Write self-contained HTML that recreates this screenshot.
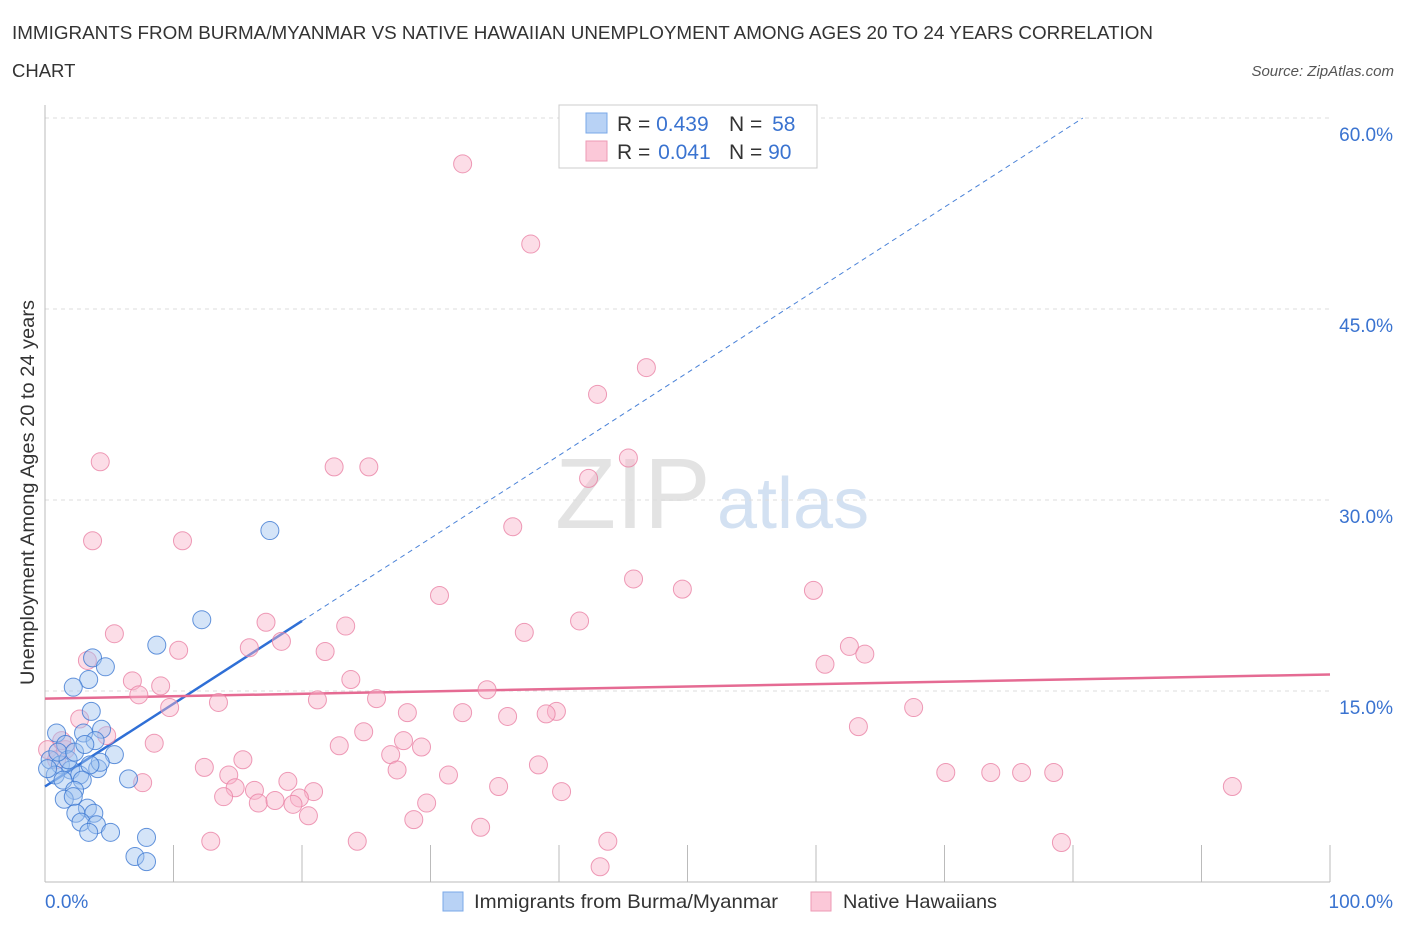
<!DOCTYPE html>
<html><head><meta charset="utf-8"><style>
body{margin:0;background:#fff;font-family:"Liberation Sans",sans-serif;}
svg text{font-family:"Liberation Sans",sans-serif;}
</style></head><body>
<svg id="chart" width="1406" height="930" viewBox="0 0 1406 930" xmlns="http://www.w3.org/2000/svg">
<text x="12" y="39" font-size="18.5" fill="#333" textLength="1141" lengthAdjust="spacingAndGlyphs">IMMIGRANTS FROM BURMA/MYANMAR VS NATIVE HAWAIIAN UNEMPLOYMENT AMONG AGES 20 TO 24 YEARS CORRELATION</text>
<text x="12" y="77" font-size="18.5" fill="#333">CHART</text>
<text x="1394" y="76" font-size="15" fill="#555" font-style="italic" text-anchor="end">Source: ZipAtlas.com</text>
<text x="34" y="685" font-size="19.5" fill="#333" textLength="385" lengthAdjust="spacingAndGlyphs" transform="rotate(-90 34 685)">Unemployment Among Ages 20 to 24 years</text>
<g><text x="555" y="528" font-size="100" fill="#ddd" font-family="Liberation Serif,serif" opacity="0.8">ZIP</text><text x="717" y="528" font-size="72" fill="#c9daf0" opacity="0.8">atlas</text></g>
<g id="grid"></g><g id="axes"></g><g id="lines"></g><g id="points"></g>
<g>
<rect x="559" y="105" width="258" height="63" fill="#fff" stroke="#ccc"/>
<rect x="586" y="113" width="21" height="20" fill="#b8d2f5" stroke="#7aa8e8"/>
<rect x="586" y="141" width="21" height="20" fill="#fbc8d8" stroke="#ee9ab5"/>
<text x="617" y="131" font-size="21" fill="#333">R = <tspan fill="#3a73d0">0.439</tspan></text>
<text x="729" y="131" font-size="21" fill="#333">N = <tspan fill="#3a73d0" dx="4">58</tspan></text>
<text x="617" y="159" font-size="21" fill="#333">R = <tspan fill="#3a73d0" dx="2">0.041</tspan></text>
<text x="729" y="159" font-size="21" fill="#333">N = <tspan fill="#3a73d0">90</tspan></text>
</g>
<g>
<rect x="443" y="892" width="20" height="19" fill="#b8d2f5" stroke="#7aa8e8"/>
<text x="474" y="908" font-size="19.5" fill="#333" textLength="304" lengthAdjust="spacingAndGlyphs">Immigrants from Burma/Myanmar</text>
<rect x="811" y="892" width="20" height="19" fill="#fbc8d8" stroke="#ee9ab5"/>
<text x="843" y="908" font-size="19.5" fill="#333" textLength="154" lengthAdjust="spacingAndGlyphs">Native Hawaiians</text>
</g>
</svg>
<script>
const blueX=[17.5,12.2,8.7,3.7,4.7,3.4,2.2,3.6,0.9,3.0,4.4,3.9,5.4,1.6,0.4,1.2,2.0,0.8,2.7,4.1,4.3,3.5,1.8,1.4,2.9,6.5,2.3,1.5,2.2,3.3,3.8,2.4,2.8,4.0,3.4,5.1,7.9,7.0,7.9,0.2,1.0,2.3,3.1];
const blueY=[27.6,20.6,18.6,17.6,16.9,15.9,15.3,13.4,11.7,11.7,12.0,11.1,10.0,10.8,9.6,9.2,8.8,8.4,8.4,8.9,9.4,9.2,9.6,8.0,8.0,8.1,7.2,6.5,6.7,5.8,5.4,5.4,4.7,4.5,3.9,3.9,3.5,2.0,1.6,8.9,10.2,10.2,10.8];
const pinkX=[32.5,37.8,46.8,43.0,45.4,42.3,22.5,25.2,4.3,3.7,10.7,36.4,45.8,49.6,59.8,30.7,17.2,41.6,23.4,37.3,5.4,18.4,15.9,10.4,62.6,63.8,21.8,60.7,3.3,6.8,23.8,9.0,7.3,34.4,21.2,25.8,13.5,9.7,67.6,28.2,32.5,39.8,39.0,36.0,2.7,24.8,4.8,63.3,8.5,22.9,27.9,29.3,1.6,0.2,26.9,15.4,12.4,38.4,27.4,14.3,31.4,70.1,73.6,76.0,78.5,18.9,7.6,14.8,16.3,35.3,20.9,40.2,92.4,13.9,16.6,17.9,19.8,19.3,29.7,20.5,28.7,33.9,12.9,24.3,43.8,79.1,43.2,1.3,0.9];
const pinkY=[56.4,50.1,40.4,38.3,33.3,31.7,32.6,32.6,33.0,26.8,26.8,27.9,23.8,23.0,22.9,22.5,20.4,20.5,20.1,19.6,19.5,18.9,18.4,18.2,18.5,17.9,18.1,17.1,17.4,15.8,15.9,15.4,14.7,15.1,14.3,14.4,14.1,13.7,13.7,13.3,13.3,13.4,13.2,13.0,12.8,11.8,11.5,12.2,10.9,10.7,11.1,10.6,10.4,10.4,10.0,9.6,9.0,9.2,8.8,8.4,8.4,8.6,8.6,8.6,8.6,7.9,7.8,7.4,7.2,7.5,7.1,7.1,7.5,6.7,6.2,6.4,6.6,6.1,6.2,5.2,4.9,4.3,3.2,3.2,3.2,3.1,1.2,11.1,9.6];
const yTicks=[15,30,45,60];
const yTickLabels=["15.0%","30.0%","45.0%","60.0%"];
const xTicks=[0,10,20,30,40,50,60,70,80,90,100];
const blueTrend=[7.5,0.65]; // intercept, slope
const pinkTrend=[14.4,16.3]; // y at 0, y at 100
const sx=v=>45+v*12.85, sy=v=>882-v*191/15;
const NS="http://www.w3.org/2000/svg";
function mk(t,a,p){const e=document.createElementNS(NS,t);for(const k in a)e.setAttribute(k,a[k]);p.appendChild(e);return e;}
const grid=document.getElementById('grid'),axes=document.getElementById('axes'),lines=document.getElementById('lines'),pts=document.getElementById('points');
yTicks.forEach((t,i)=>{
 const g=mk('line',{x1:45,x2:1330,y1:sy(t),y2:sy(t),stroke:'#ddd','stroke-dasharray':'4 4'},grid);
 
 
 const l=mk('text',{x:1393,y:sy(t)+23,'font-size':19,fill:'#3a73d0','text-anchor':'end'},axes);
 l.textContent=yTickLabels[i];
 
 
});
const ax=mk('line',{x1:45,x2:45,y1:105,y2:882,stroke:'#bbb'},axes);


const bx=mk('line',{x1:45,x2:1330,y1:882,y2:882,stroke:'#bbb'},axes);


xTicks.forEach(t=>{const k=mk('line',{x1:sx(t),x2:sx(t),y1:845,y2:882,stroke:'#bbb'},axes);
 
 });
const x0=mk('text',{x:45,y:908,'font-size':19,fill:'#3a73d0'},axes);x0.textContent='0.0%';


const x1=mk('text',{x:1393,y:908,'font-size':19,fill:'#3a73d0','text-anchor':'end'},axes);x1.textContent='100.0%';


pinkX.forEach((x,i)=>{const c=mk('circle',{cx:sx(x),cy:sy(pinkY[i]),r:9,fill:'rgba(248,180,202,0.45)',stroke:'rgba(234,130,165,0.8)','stroke-width':1},pts);
 
 });
blueX.forEach((x,i)=>{const c=mk('circle',{cx:sx(x),cy:sy(blueY[i]),r:9,fill:'rgba(160,195,240,0.45)',stroke:'rgba(60,120,210,0.8)','stroke-width':1},pts);
 
 });
const bEnd=(60-blueTrend[0])/blueTrend[1];
const b1=mk('line',{x1:sx(0),y1:sy(blueTrend[0]),x2:sx(20),y2:sy(blueTrend[0]+20*blueTrend[1]),stroke:'#2f6fd6','stroke-width':2.5},lines);


const b2=mk('line',{x1:sx(20),y1:sy(blueTrend[0]+20*blueTrend[1]),x2:sx(bEnd),y2:sy(60),stroke:'#4a82d8','stroke-width':1,'stroke-dasharray':'5 4'},lines);


const p1=mk('line',{x1:sx(0),y1:sy(pinkTrend[0]),x2:sx(100),y2:sy(pinkTrend[1]),stroke:'#e56b93','stroke-width':2.5},lines);


</script>
</body></html>
